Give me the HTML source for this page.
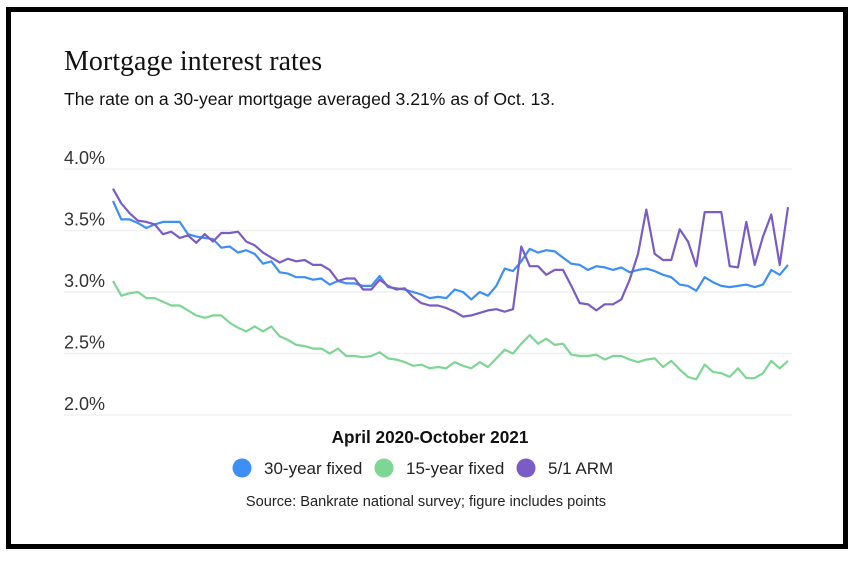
<!DOCTYPE html>
<html><head><meta charset="utf-8"><style>
html,body{margin:0;padding:0;background:#fff;}
body{width:852px;height:560px;overflow:hidden;font-family:"Liberation Sans",sans-serif;}
</style></head><body>
<svg width="852" height="560" viewBox="0 0 852 560" xmlns="http://www.w3.org/2000/svg">
<rect x="0" y="0" width="852" height="560" fill="#fff"/>
<rect x="8.5" y="9.5" width="837" height="537" fill="none" stroke="#000" stroke-width="5"/>
<text x="64" y="70" font-family="Liberation Serif, serif" font-size="28" fill="#111">Mortgage interest rates</text>
<text x="64" y="105" font-size="17.6" fill="#111">The rate on a 30-year mortgage averaged 3.21% as of Oct. 13.</text>
<g id="grid"></g>
<g id="series"></g>
<text x="430" y="443" text-anchor="middle" font-size="17.2" font-weight="bold" fill="#111">April 2020-October 2021</text>
<g id="legend"></g>
<text x="426" y="506" text-anchor="middle" font-size="14.6" fill="#222">Source: Bankrate national survey; figure includes points</text>
</svg>
<script>
const yTicks = [4.0, 3.5, 3.0, 2.5, 2.0];
const tickLabels = ["4.0%", "3.5%", "3.0%", "2.5%", "2.0%"];
const seriesNames = ["30-year fixed", "15-year fixed", "5/1 ARM"];
const fixed30 = [3.74,3.59,3.59,3.56,3.52,3.55,3.57,3.57,3.57,3.47,3.45,3.44,3.43,3.36,3.37,3.32,3.34,3.31,3.23,3.25,3.16,3.15,3.12,3.12,3.10,3.11,3.06,3.09,3.07,3.07,3.05,3.05,3.13,3.04,3.03,3.02,3.00,2.98,2.95,
2.96,2.95,3.02,3.00,2.94,3.00,2.97,3.05,3.19,3.17,3.25,3.35,3.32,3.34,3.33,3.28,3.23,3.22,3.18,3.21,3.20,3.18,3.20,3.16,3.18,3.19,3.17,3.14,3.12,3.06,3.05,3.01,3.12,3.08,3.05,3.04,3.05,3.06,3.04,3.06,3.18,3.14,3.22];
const fixed15 = [3.09,2.97,2.99,3.00,2.95,2.95,2.92,2.89,2.89,2.85,2.81,2.79,2.81,2.81,2.75,2.71,2.68,2.72,2.68,2.72,2.64,2.61,2.57,2.56,2.54,2.54,2.50,2.54,2.48,2.48,2.47,2.48,2.51,2.46,2.45,2.43,2.40,2.41,2.38,
2.39,2.38,2.43,2.40,2.38,2.43,2.39,2.46,2.53,2.50,2.58,2.65,2.58,2.62,2.57,2.58,2.49,2.48,2.48,2.49,2.45,2.48,2.48,2.45,2.43,2.45,2.46,2.39,2.44,2.37,2.31,2.29,2.41,2.35,2.34,2.31,2.38,2.30,2.30,2.34,2.44,2.38,2.44];
const arm51 = [3.84,3.72,3.64,3.58,3.57,3.55,3.47,3.49,3.44,3.46,3.40,3.47,3.41,3.48,3.48,3.49,3.41,3.38,3.32,3.28,3.24,3.27,3.25,3.26,3.22,3.22,3.18,3.09,3.11,3.11,3.02,3.02,3.10,3.05,3.02,3.03,2.96,2.91,2.89,
2.89,2.87,2.84,2.80,2.81,2.83,2.85,2.86,2.84,2.86,3.37,3.21,3.21,3.14,3.18,3.18,3.05,2.91,2.90,2.85,2.90,2.90,2.94,3.10,3.31,3.67,3.31,3.26,3.26,3.51,3.41,3.21,3.65,3.65,3.65,3.21,3.20,3.57,3.22,3.45,3.63,3.22,3.69];

const NS = "http://www.w3.org/2000/svg";
const colors = ["#3d8ff5", "#7dd694", "#7a5cc4"];
function yScale(v){ return 169 + (4 - v) * 123; }
function xScale(i, n){ return 113 + i * (788 - 113) / (n - 1); }

const grid = document.getElementById("grid");
yTicks.forEach((t, k) => {
  const ln = document.createElementNS(NS, "line");
  
  
  ln.setAttribute("x1", 64); ln.setAttribute("x2", 792);
  ln.setAttribute("y1", yScale(t)); ln.setAttribute("y2", yScale(t));
  ln.setAttribute("stroke", "#f0f0f0"); ln.setAttribute("stroke-width", "1.5");
  grid.appendChild(ln);
  const tx = document.createElementNS(NS, "text");
  
  
  tx.setAttribute("x", 64); tx.setAttribute("y", yScale(t) - 5);
  tx.setAttribute("font-size", "18"); tx.setAttribute("fill", "#333");
  tx.textContent = tickLabels[k];
  grid.appendChild(tx);
});

const sg = document.getElementById("series");
[fixed30, fixed15, arm51].forEach((arr, s) => {
  const p = document.createElementNS(NS, "polyline");
  
  
  p.setAttribute("points", arr.map((v, i) => xScale(i, arr.length).toFixed(1) + "," + yScale(v).toFixed(1)).join(" "));
  p.setAttribute("fill", "none");
  p.setAttribute("stroke", colors[s]);
  p.setAttribute("stroke-width", "2.2");
  p.setAttribute("stroke-linejoin", "round");
  sg.appendChild(p);
});
const lg = document.getElementById("legend");
const legendX = [242, 384, 526];
seriesNames.forEach((nm, s) => {
  const c = document.createElementNS(NS, "circle");
  
  
  c.setAttribute("cx", legendX[s]); c.setAttribute("cy", 468); c.setAttribute("r", 9.5);
  c.setAttribute("fill", colors[s]);
  lg.appendChild(c);
  const t = document.createElementNS(NS, "text");
  
  
  t.setAttribute("x", legendX[s] + 22); t.setAttribute("y", 474);
  t.setAttribute("font-size", "17"); t.setAttribute("fill", "#222");
  t.textContent = nm;
  lg.appendChild(t);
});
</script>
</body></html>
